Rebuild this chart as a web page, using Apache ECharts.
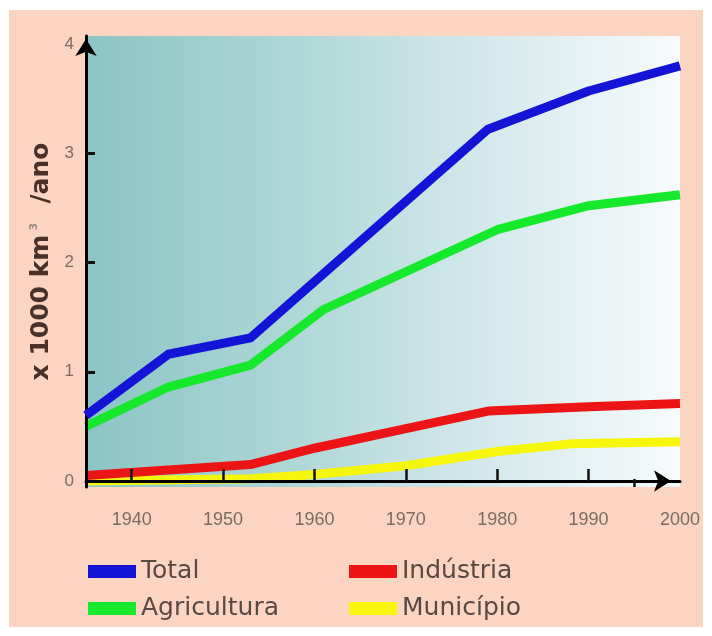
<!DOCTYPE html>
<html>
<head>
<meta charset="utf-8">
<script src="https://cdn.jsdelivr.net/npm/echarts@6/dist/echarts.min.js"></script>
<style>
  html, body { margin: 0; padding: 0; background: #ffffff; }
  #wrap { position: relative; width: 712px; height: 636px; background: #ffffff; }
  #chart { position: absolute; left: 9px; top: 10px; width: 694px; height: 617px; }
</style>
</head>
<body>
<div id="wrap"><div id="chart"></div></div>
<script>
// Consumo de água por setor (x 1000 km³/ano), pares [ano, valor]
const totalData = [[1935, 0.60], [1944, 1.16], [1953, 1.31], [1979, 3.22], [1990, 3.57], [2000, 3.80]];
const agriculturaData = [[1935, 0.50], [1944, 0.86], [1953, 1.06], [1961, 1.57], [1980, 2.30], [1990, 2.52], [2000, 2.62]];
const industriaData = [[1935, 0.05], [1953, 0.15], [1960, 0.30], [1970, 0.48], [1979, 0.64], [1990, 0.68], [2000, 0.71]];
const municipioData = [[1935, 0.00], [1953, 0.02], [1960, 0.06], [1970, 0.14], [1980, 0.27], [1988, 0.34], [2000, 0.36]];

const yearLabels = [1940, 1950, 1960, 1970, 1980, 1990, 2000];
const yearTicks = [1940, 1950, 1960, 1970, 1980, 1990];
const halfDecadeTicks = [1995];
const valueLabels = [0, 1, 2, 3, 4];
const valueTicks = [1, 2, 3];

const seriesNames = ['Total', 'Agricultura', 'Indústria', 'Município'];
const seriesColors = ['#1414d6', '#16e82c', '#ec1414', '#f6f60c'];

const chart = echarts.init(document.getElementById('chart'), null, { renderer: 'canvas' });

const labelColor = '#7d6b62';
const legendText = { fontFamily: 'DejaVu Sans', fontSize: 25, color: '#5a4842' };

const lineSeries = (name, data, color, z) => ({
  name: name,
  type: 'line',
  data: data,
  xAxisIndex: 0,
  yAxisIndex: 0,
  symbol: 'none',
  z: z,
  lineStyle: { color: color, width: 9, join: 'round' },
  itemStyle: { color: color }
});

chart.setOption({
  animation: false,
  backgroundColor: '#fbd5c1',
  grid: {
    left: 77, right: 22, top: 26, bottom: 140,
    show: true,
    borderWidth: 0,
    backgroundColor: new echarts.graphic.LinearGradient(0, 0, 1, 0, [
      { offset: 0, color: '#8cc4c5' },
      { offset: 0.35, color: '#afd7d7' },
      { offset: 0.7, color: '#d7eaee' },
      { offset: 1, color: '#f7fbfc' }
    ])
  },
  legend: [
    {
      data: ['Total', 'Agricultura'],
      orient: 'vertical',
      left: 74, top: 544,
      icon: 'rect', itemWidth: 48, itemHeight: 13, itemGap: 12,
      textStyle: legendText
    },
    {
      data: ['Indústria', 'Município'],
      orient: 'vertical',
      left: 335, top: 544,
      icon: 'rect', itemWidth: 48, itemHeight: 13, itemGap: 12,
      textStyle: legendText
    }
  ],
  xAxis: [
    {
      type: 'value', min: 1935, max: 2000, position: 'bottom', z: 5,
      splitLine: { show: false },
      axisLine: { show: true, lineStyle: { color: '#000', width: 3 }, symbol: ['none', 'arrow'], symbolSize: [16, 17], symbolOffset: [0, -9] },
      axisTick: { show: true, inside: true, length: 12, lineStyle: { color: '#111', width: 2.5 }, customValues: yearTicks },
      axisLabel: {
        show: true, margin: 24, fontFamily: 'Liberation Sans', fontSize: 18, color: labelColor,
        customValues: yearLabels, formatter: (v) => String(v)
      }
    },
    {
      type: 'value', min: 1935, max: 2000, position: 'bottom', z: 5,
      splitLine: { show: false },
      axisLine: { show: false },
      axisTick: { show: true, inside: true, length: 8, lineStyle: { color: '#111', width: 2.5 }, customValues: halfDecadeTicks },
      axisLabel: { show: false }
    }
  ],
  yAxis: {
    type: 'value', min: -0.0549, max: 4.0732, z: 5,
    splitLine: { show: false },
    name: 'x 1000 km{sup|3}  /ano',
    nameLocation: 'middle',
    nameRotate: 90,
    nameGap: 30,
    nameTextStyle: {
      fontFamily: 'DejaVu Sans', fontWeight: 'bold', fontSize: 25, color: '#4a3026',
      rich: { sup: { fontFamily: 'DejaVu Sans', fontSize: 11, color: '#9a8a82', verticalAlign: 'top', padding: [0, 2, 14, 4] } }
    },
    axisLine: { show: true, lineStyle: { color: '#000', width: 3 }, symbol: ['none', 'arrow'], symbolSize: [16, 17], symbolOffset: [0, -3] },
    axisTick: { show: true, inside: true, length: 9, lineStyle: { color: '#111', width: 3 }, customValues: valueTicks },
    axisLabel: { show: true, margin: 12, fontFamily: 'Liberation Sans', fontSize: 17, color: labelColor, customValues: valueLabels }
  },
  series: [
    lineSeries(seriesNames[3], municipioData, seriesColors[3], 2),
    lineSeries(seriesNames[2], industriaData, seriesColors[2], 3),
    lineSeries(seriesNames[1], agriculturaData, seriesColors[1], 4),
    lineSeries(seriesNames[0], totalData, seriesColors[0], 5)
  ]
});
</script>
</body>
</html>
